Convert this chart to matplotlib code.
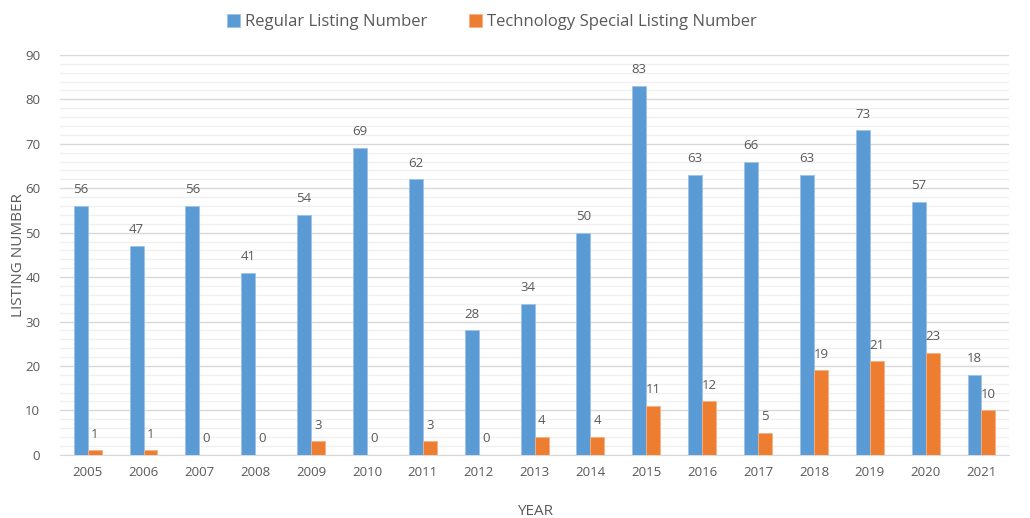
import numpy as np
import matplotlib.pyplot as plt
from matplotlib.ticker import MultipleLocator

plt.rcParams['font.family'] = ['Open Sans', 'DejaVu Sans']

years = ['2005', '2006', '2007', '2008', '2009', '2010', '2011', '2012', '2013',
         '2014', '2015', '2016', '2017', '2018', '2019', '2020', '2021']
regular = [56, 47, 56, 41, 54, 69, 62, 28, 34, 50, 83, 63, 66, 63, 73, 57, 18]
special = [1, 1, 0, 0, 3, 0, 3, 0, 4, 4, 11, 12, 5, 19, 21, 23, 10]

blue = '#5B9BD5'
orange = '#ED7D31'
txt = '#595959'

fig = plt.figure(figsize=(10.3, 5.18), dpi=100)
ax = fig.add_axes([0.058, 0.122, 0.922, 0.772])

x = np.arange(len(years))
w = 0.25
b1 = ax.bar(x - w / 2, regular, w, color=blue, edgecolor='#9DC3E6', linewidth=0.6,
            label='Regular Listing Number', zorder=3)
b2 = ax.bar(x + w / 2, special, w, color=orange, edgecolor='#F4B183', linewidth=0.6,
            label='Technology Special Listing Number', zorder=3)

for bars, vals in ((b1, regular), (b2, special)):
    for r, v in zip(bars, vals):
        ax.annotate(str(v), (r.get_x() + r.get_width() / 2, v), xytext=(0, 7),
                    textcoords='offset points', ha='center', va='bottom',
                    fontsize=9.5, color=txt)

ax.set_xlim(-0.5, len(years) - 0.5)
ax.set_ylim(0, 90)
ax.yaxis.set_major_locator(MultipleLocator(10))
ax.yaxis.set_minor_locator(MultipleLocator(2))
ax.set_xticks(x)
ax.set_xticklabels(years)
ax.grid(axis='y', which='major', color='#D9D9D9', linewidth=1, zorder=0)
ax.grid(axis='y', which='minor', color='#F0F0F0', linewidth=1, zorder=0)
ax.set_axisbelow(True)
for s in ['top', 'right', 'left']:
    ax.spines[s].set_visible(False)
ax.spines['bottom'].set_color('#D9D9D9')
ax.tick_params(axis='both', which='both', length=0, colors=txt, labelsize=9.5)
ax.tick_params(axis='x', pad=8)
ax.tick_params(axis='y', pad=14)

ax.set_xlabel('YEAR', fontsize=11, color=txt, labelpad=18)
ax.set_ylabel('LISTING NUMBER', fontsize=11, color=txt)
ax.yaxis.set_label_coords(-0.036, 0.5)

ax.legend(loc='upper center', bbox_to_anchor=(0.455, 1.14), ncol=2, frameon=False,
          fontsize=12, labelcolor=txt, handlelength=0.8, handleheight=0.8,
          columnspacing=2.5, handletextpad=0.3)

fig.savefig('out.png', dpi=100)
